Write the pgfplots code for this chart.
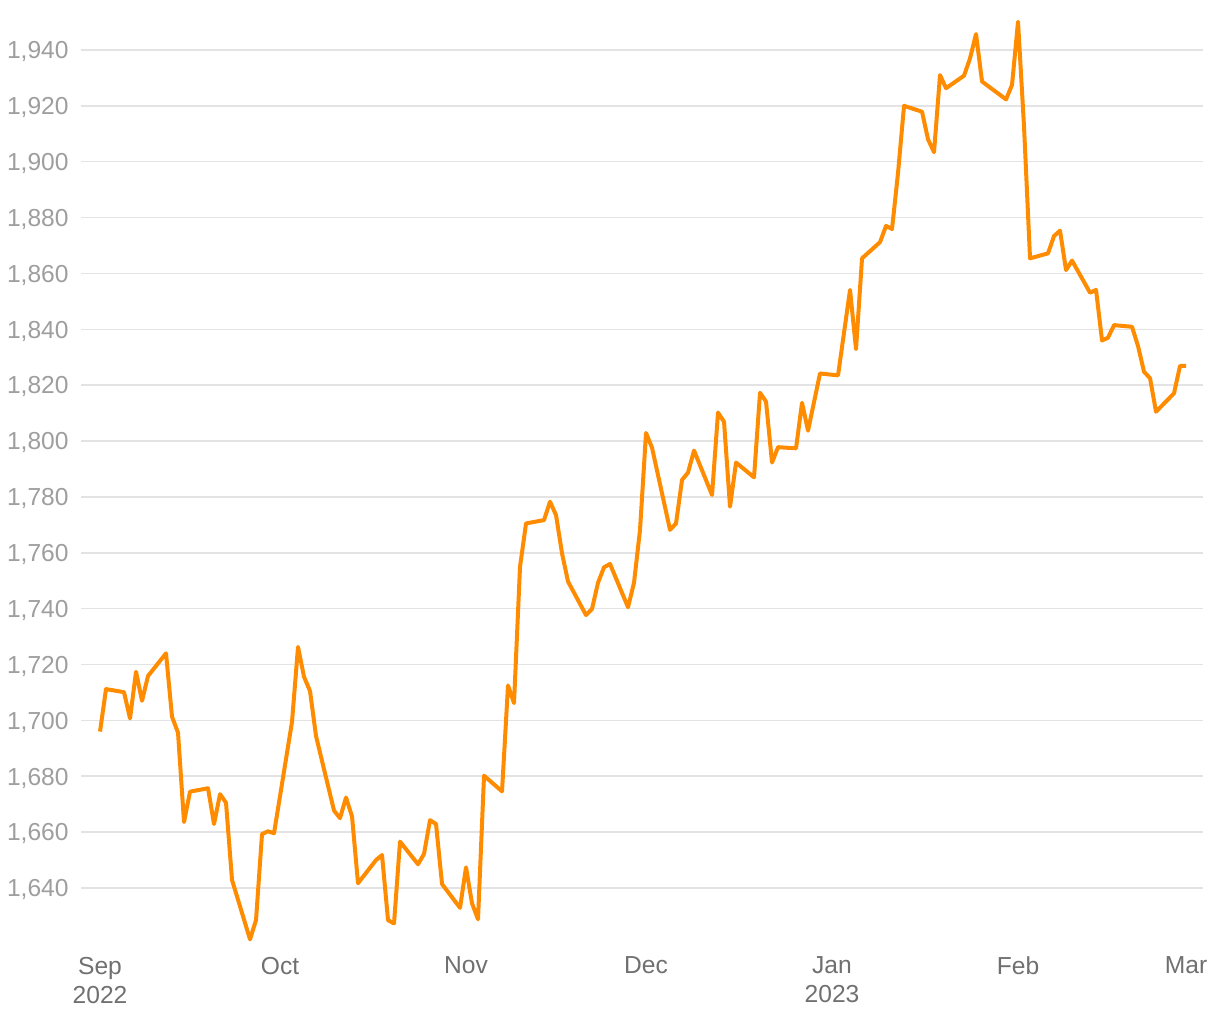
\documentclass[border=0pt]{standalone}
\usepackage{fontspec}
\setmainfont{Liberation Sans}
\usepackage{pgfplots}
\pgfplotsset{compat=1.18}
\definecolor{lineorange}{HTML}{FF8C00}
\definecolor{gridgray}{HTML}{E3E3E3}
\definecolor{ylab}{HTML}{9E9E9E}
\definecolor{xlab}{HTML}{707070}
\begin{document}
\begin{tikzpicture}
\useasboundingbox (0,0) rectangle (610bp,510bp);
\begin{axis}[
  at={(40.5bp,35.27bp)}, anchor=south west,
  scale only axis, width=561bp, height=469.3bp,
  xmin=-3.17, xmax=183.83, ymin=1618, ymax=1954,
  axis line style={draw=none},
  major tick length=0pt,
  ytick={1640,1660,...,1940},
  xtick={0,30,61,91,122,153,181},
  xticklabels={{Sep\\2022},Oct,Nov,Dec,{Jan\\2023},Feb,Mar},
  ymajorgrids,
  grid style={draw=gridgray, line width=0.8bp},
  tick label style={font=\fontsize{12.3bp}{14.5bp}\selectfont},
  xticklabel style={align=center, anchor=north, inner sep=0pt, yshift=-3.5bp, text=xlab},
  yticklabel style={anchor=base east, inner sep=0pt, xshift=-6bp, yshift=-4.4bp, text=ylab},
  /pgf/number format/assume math mode=true,
  /pgf/number format/1000 sep={,},
]
\addplot[lineorange, line width=2bp, line join=round, no marks] coordinates {
(0,1696.0) (1,1711.2) (4,1710.1) (5,1700.7) (6,1717.4) (7,1707.0) (8,1715.9)
(11,1724.0) (12,1701.3) (13,1695.6) (14,1663.6) (15,1674.5) (18,1675.7)
(19,1662.9) (20,1673.6) (21,1670.5) (22,1642.9) (25,1621.6) (26,1628.5)
(27,1659.3) (28,1660.3) (29,1659.6) (32,1699.5) (33,1726.3) (34,1715.6)
(35,1710.5) (36,1694.4) (39,1667.7) (40,1665.0) (41,1672.4) (42,1665.6)
(43,1641.7) (46,1650.0) (47,1651.8) (48,1628.5) (49,1627.3) (50,1656.6)
(53,1648.5) (54,1652.2) (55,1664.3) (56,1662.9) (57,1641.4) (60,1632.9)
(61,1647.4) (62,1634.5) (63,1628.8) (64,1680.2) (67,1674.6) (68,1712.5)
(69,1706.2) (70,1755.0) (71,1770.5) (74,1771.7) (75,1778.3) (76,1773.5)
(77,1759.8) (78,1749.7) (81,1737.7) (82,1739.9) (83,1749.3) (84,1754.8)
(85,1756.0) (88,1740.5) (89,1749.3) (90,1768.2) (91,1802.9) (92,1797.6)
(95,1768.2) (96,1770.5) (97,1786.1) (98,1788.7) (99,1796.6) (102,1780.7)
(103,1810.2) (104,1806.9) (105,1776.5) (106,1792.3) (109,1787.0) (110,1817.3)
(111,1814.1) (112,1792.3) (113,1797.8) (116,1797.4) (117,1813.7) (118,1803.7)
(120,1824.2) (123,1823.5) (125,1854.1) (126,1832.9) (127,1865.4) (130,1871.2)
(131,1877.0) (132,1875.9) (133,1896.0) (134,1920.0) (137,1917.9) (138,1908.0)
(139,1903.4) (140,1931.0) (141,1926.3) (144,1930.8) (145,1937.0) (146,1945.7)
(147,1928.7) (151,1922.3) (152,1927.5) (153,1950.1) (154,1912.6) (155,1865.4)
(158,1867.2) (159,1873.4) (160,1875.3) (161,1861.2) (162,1864.6) (165,1853.1)
(166,1854.1) (167,1836.0) (168,1837.0) (169,1841.5) (172,1840.9) (173,1834.0)
(174,1824.8) (175,1822.5) (176,1810.5) (179,1817.1) (180,1826.9) (181,1826.9)
};
\end{axis}
\end{tikzpicture}
\end{document}
